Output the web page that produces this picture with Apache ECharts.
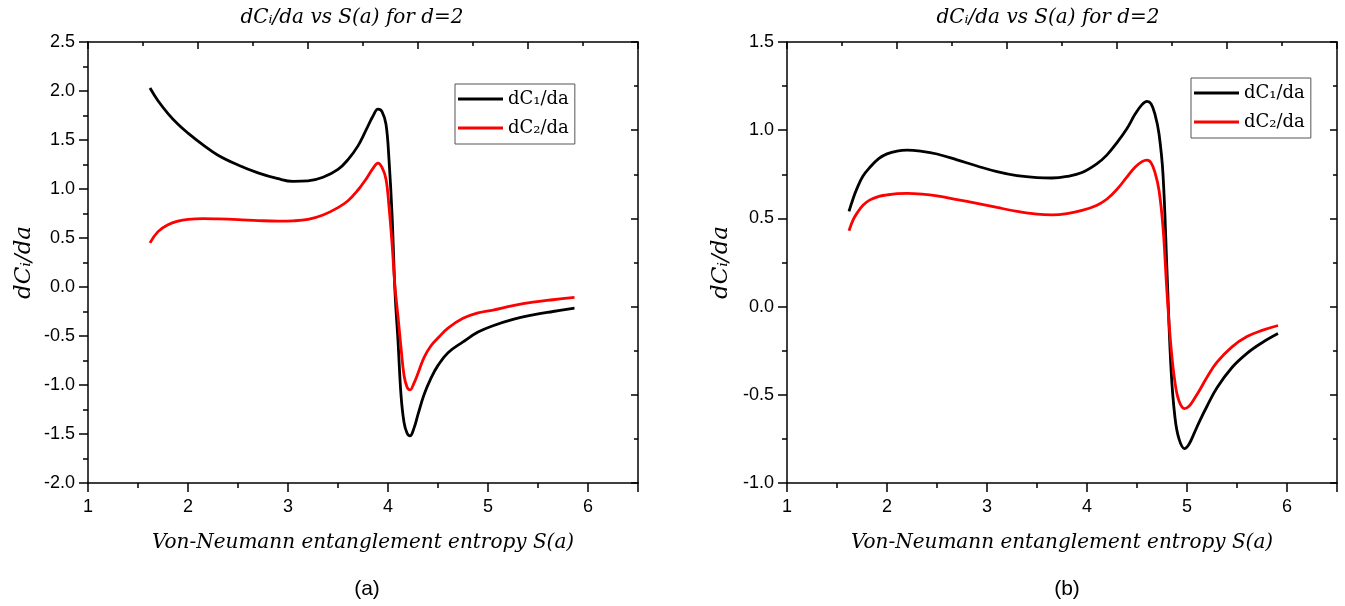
<!DOCTYPE html>
<html>
<head>
<meta charset="utf-8">
<script src="https://cdn.jsdelivr.net/npm/echarts@6/dist/echarts.min.js"></script>
<style>
  html, body { margin: 0; padding: 0; background: #fff; }
  #chart { width: 1345px; height: 606px; }
</style>
</head>
<body>
<div id="chart"></div>
<script>
// Panel (a): entropy S(a) and the two derivative curves
const sA = [1.62, 1.70, 1.80, 1.90, 2.0, 2.15, 2.3, 2.5, 2.7, 2.9, 3.05, 3.2, 3.35, 3.5, 3.6, 3.7, 3.78, 3.85, 3.9, 3.94, 3.98, 4.01, 4.04, 4.07, 4.10, 4.13, 4.16, 4.19, 4.22, 4.26, 4.30, 4.36, 4.43, 4.5, 4.6, 4.75, 4.9, 5.05, 5.25, 5.45, 5.65, 5.865];
const dC1A = [2.03, 1.90, 1.77, 1.66, 1.57, 1.45, 1.345, 1.245, 1.165, 1.105, 1.078, 1.083, 1.12, 1.20, 1.30, 1.44, 1.60, 1.745, 1.815, 1.79, 1.66, 1.30, 0.75, -0.05, -0.55, -1.1, -1.38, -1.49, -1.52, -1.44, -1.30, -1.10, -0.93, -0.80, -0.67, -0.56, -0.46, -0.395, -0.33, -0.285, -0.25, -0.215];
const dC2A = [0.45, 0.565, 0.635, 0.672, 0.69, 0.698, 0.695, 0.688, 0.678, 0.672, 0.675, 0.69, 0.735, 0.81, 0.88, 0.99, 1.10, 1.21, 1.265, 1.22, 1.10, 0.82, 0.45, 0.0, -0.30, -0.62, -0.90, -1.02, -1.05, -0.98, -0.88, -0.72, -0.60, -0.52, -0.42, -0.32, -0.265, -0.235, -0.19, -0.155, -0.13, -0.105];

// Panel (b)
const sB = [1.62, 1.66, 1.70, 1.76, 1.83, 1.92, 2.0, 2.1, 2.2, 2.35, 2.5, 2.7, 2.9, 3.1, 3.3, 3.5, 3.65, 3.8, 3.95, 4.1, 4.2, 4.3, 4.4, 4.48, 4.55, 4.6, 4.64, 4.68, 4.72, 4.76, 4.80, 4.84, 4.88, 4.92, 4.975, 5.02, 5.07, 5.13, 5.2, 5.3, 5.45, 5.6, 5.75, 5.91];
const dC1B = [0.54, 0.61, 0.67, 0.74, 0.79, 0.84, 0.866, 0.882, 0.887, 0.88, 0.865, 0.832, 0.797, 0.765, 0.742, 0.731, 0.729, 0.738, 0.76, 0.81, 0.86, 0.93, 1.01, 1.09, 1.145, 1.163, 1.15, 1.09, 0.98, 0.75, 0.20, -0.35, -0.63, -0.75, -0.805, -0.78, -0.72, -0.645, -0.565, -0.46, -0.345, -0.265, -0.205, -0.153];
const dC2B = [0.43, 0.49, 0.53, 0.575, 0.605, 0.625, 0.633, 0.64, 0.642, 0.638, 0.628, 0.607, 0.585, 0.562, 0.54, 0.524, 0.52, 0.527, 0.545, 0.575, 0.61, 0.665, 0.735, 0.79, 0.822, 0.83, 0.815, 0.76, 0.66, 0.45, 0.08, -0.23, -0.43, -0.535, -0.578, -0.565, -0.525, -0.47, -0.40, -0.315, -0.228, -0.17, -0.135, -0.107];

// Axis ranges and ticks
const xRange = { min: 1, max: 6.5, interval: 1 };
const yRangeA = { min: -2.0, max: 2.5, interval: 0.5 };
const yRangeB = { min: -1.0, max: 1.5, interval: 0.5 };

const titleText = 'dCᵢ/da vs S(a) for d=2';
const xName = 'Von-Neumann entanglement entropy S(a)';
const yName = 'dCᵢ/da';
const nameC1 = 'dC₁/da';
const nameC2 = 'dC₂/da';
const panelTags = ['(a)', '(b)'];

const serif = 'DejaVu Serif';
const sans = 'Liberation Sans';
const lineStyle = { color: '#000', width: 1.5 };

const grids = [
  { left: 88, top: 42, width: 550, height: 441 },
  { left: 787, top: 42, width: 550, height: 441 }
];

function bottomX(g) {
  return {
    type: 'value', gridIndex: g, position: 'bottom',
    min: xRange.min, max: xRange.max, interval: xRange.interval,
    name: xName, nameLocation: 'middle', nameGap: 50,
    nameTextStyle: { fontFamily: serif, fontStyle: 'italic', fontSize: 20, color: '#000' },
    axisLine: { show: true, onZero: false, lineStyle },
    axisTick: { show: true, inside: false, length: 9, lineStyle },
    minorTick: { show: true, splitNumber: 2, length: 5, lineStyle },
    splitLine: { show: false },
    axisLabel: {
      color: '#000', fontFamily: sans, fontSize: 18, margin: 15,
      formatter: v => (Math.abs(v - Math.round(v)) < 1e-9 ? String(Math.round(v)) : '')
    }
  };
}
function topX(g) {
  return {
    type: 'value', gridIndex: g, position: 'top', min: 0, max: 10, interval: 2,
    axisLine: { show: true, onZero: false, lineStyle },
    axisTick: { show: true, inside: true, length: 7, lineStyle },
    minorTick: { show: true, splitNumber: 2, length: 4, lineStyle },
    axisLabel: { show: false }, splitLine: { show: false }
  };
}
function leftY(g, r, gap) {
  return {
    type: 'value', gridIndex: g, position: 'left',
    min: r.min, max: r.max, interval: r.interval,
    name: yName, nameLocation: 'middle', nameGap: gap,
    nameTextStyle: { fontFamily: serif, fontStyle: 'italic', fontSize: 23, color: '#000' },
    axisLine: { show: true, onZero: false, lineStyle },
    axisTick: { show: true, inside: false, length: 9, lineStyle },
    minorTick: { show: true, splitNumber: 2, length: 5, lineStyle },
    splitLine: { show: false },
    axisLabel: { color: '#000', fontFamily: sans, fontSize: 18, margin: 13, formatter: v => v.toFixed(1) }
  };
}
function rightY(g) {
  return {
    type: 'value', gridIndex: g, position: 'right', min: 0, max: 10, interval: 2,
    axisLine: { show: true, onZero: false, lineStyle },
    axisTick: { show: true, inside: true, length: 7, lineStyle },
    minorTick: { show: true, splitNumber: 2, length: 4, lineStyle },
    axisLabel: { show: false }, splitLine: { show: false }
  };
}
function curve(name, xs, ys, color, xi, yi) {
  return {
    type: 'line', name, xAxisIndex: xi, yAxisIndex: yi,
    data: xs.map((x, i) => [x, ys[i]]),
    showSymbol: false, smooth: 0.4,
    lineStyle: { color, width: 2.8 }, itemStyle: { color },
    z: color === '#000000' ? 3 : 4
  };
}
function legend(left, top) {
  return {
    orient: 'vertical', left, top, data: [nameC1, nameC2],
    itemWidth: 45, itemHeight: 3, itemGap: 11, icon: 'rect',
    borderColor: '#555', borderWidth: 1, padding: [6, 6, 7, 3],
    backgroundColor: '#fff',
    textStyle: { fontFamily: serif, fontSize: 18, color: '#000' },
    selectedMode: false
  };
}

const titleStyle = { fontFamily: serif, fontStyle: 'italic', fontWeight: 'normal', fontSize: 20, color: '#000' };
const tagStyle = { fontFamily: sans, fontWeight: 'normal', fontSize: 21, color: '#000' };

const chart = echarts.init(document.getElementById('chart'), null, { renderer: 'canvas' });
chart.setOption({
  animation: false,
  backgroundColor: '#fff',
  title: [
    { text: titleText, left: 347, top: 3, textAlign: 'center', textStyle: titleStyle },
    { text: titleText, left: 1043, top: 3, textAlign: 'center', textStyle: titleStyle },
    { text: panelTags[0], left: 362, top: 574, textAlign: 'center', textStyle: tagStyle },
    { text: panelTags[1], left: 1062, top: 574, textAlign: 'center', textStyle: tagStyle }
  ],
  legend: [legend(455, 84), legend(1191, 78)],
  grid: grids,
  xAxis: [bottomX(0), topX(0), bottomX(1), topX(1)],
  yAxis: [leftY(0, yRangeA, 52), rightY(0), leftY(1, yRangeB, 54), rightY(1)],
  series: [
    curve(nameC1, sA, dC1A, '#000000', 0, 0),
    curve(nameC2, sA, dC2A, '#ff0000', 0, 0),
    curve(nameC1, sB, dC1B, '#000000', 2, 2),
    curve(nameC2, sB, dC2B, '#ff0000', 2, 2)
  ]
});
</script>
</body>
</html>
